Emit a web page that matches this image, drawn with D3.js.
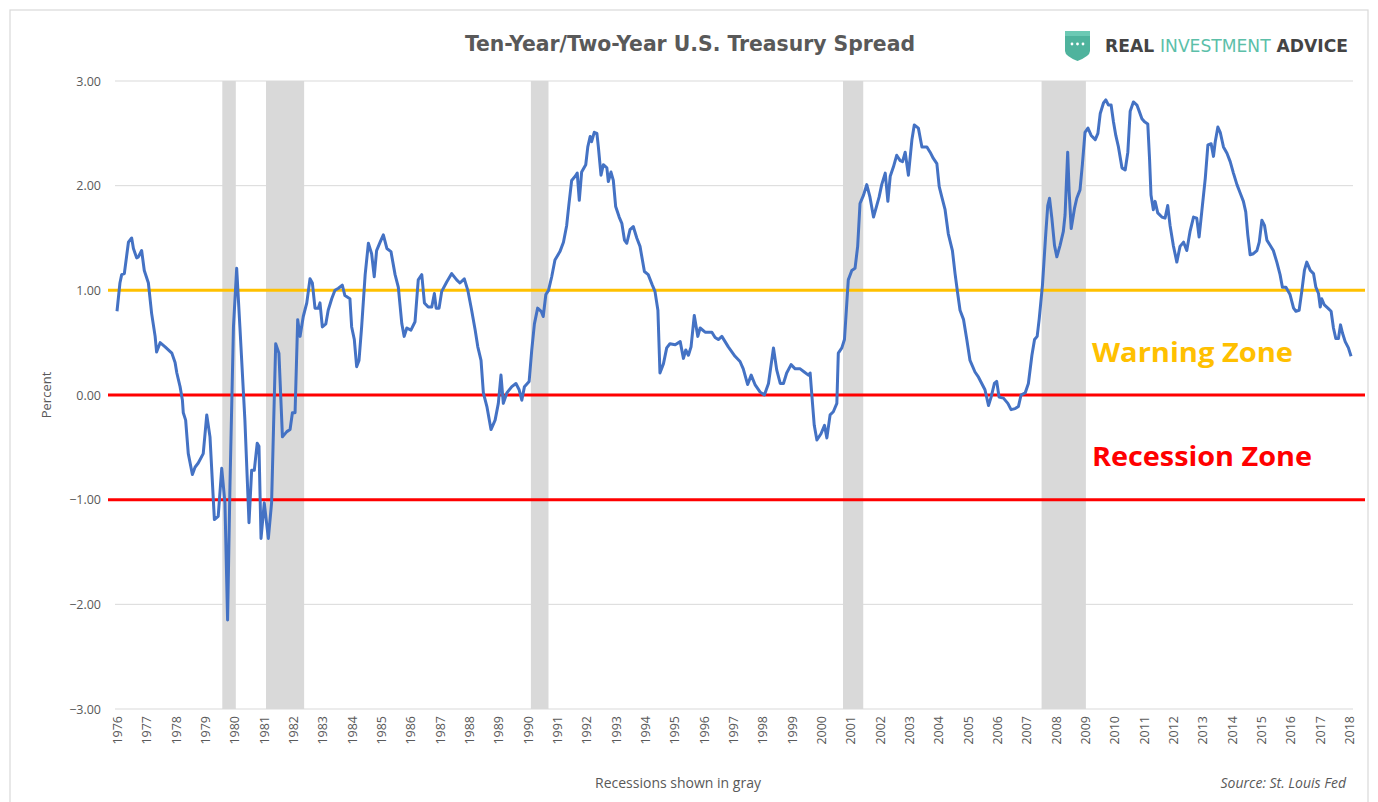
<!DOCTYPE html>
<html><head><meta charset="utf-8">
<script src="https://cdn.jsdelivr.net/npm/d3@7"></script>
<style>body{margin:0;background:#fff;} svg{display:block;}</style>
</head><body>
<svg id="chart" width="1378" height="802"></svg>
<script>
// ---- data ----
const years = d3.range(1976, 2019);
const yTicks = [3, 2, 1, 0, -1, -2, -3];
const recessions = [[1979.59, 1980.05], [1981.08, 1982.38], [1990.11, 1990.71], [2000.75, 2001.44], [2007.52, 2009.03]];
const dates = [1976.00,1976.10,1976.16,1976.25,1976.39,1976.50,1976.56,1976.67,1976.73,1976.84,1976.93,1977.07,1977.18,1977.30,1977.35,1977.47,1977.64,1977.87,1977.98,1978.04,1978.15,1978.23,1978.26,1978.34,1978.43,1978.57,1978.66,1978.77,1978.94,1979.06,1979.17,1979.32,1979.45,1979.57,1979.68,1979.77,1979.85,1979.97,1980.08,1980.19,1980.36,1980.50,1980.59,1980.68,1980.78,1980.84,1980.91,1981.02,1981.16,1981.27,1981.41,1981.52,1981.64,1981.79,1981.90,1981.98,1982.07,1982.16,1982.24,1982.35,1982.47,1982.58,1982.66,1982.75,1982.86,1982.92,1983.00,1983.12,1983.20,1983.32,1983.43,1983.55,1983.68,1983.77,1983.94,1984.00,1984.09,1984.17,1984.25,1984.34,1984.46,1984.57,1984.68,1984.77,1984.85,1984.97,1985.08,1985.20,1985.34,1985.48,1985.59,1985.71,1985.79,1985.88,1986.02,1986.16,1986.27,1986.39,1986.48,1986.61,1986.73,1986.82,1986.88,1986.98,1987.07,1987.24,1987.41,1987.58,1987.69,1987.84,1987.96,1988.09,1988.21,1988.30,1988.41,1988.49,1988.61,1988.75,1988.89,1989.00,1989.09,1989.17,1989.29,1989.46,1989.60,1989.71,1989.80,1989.89,1990.05,1990.14,1990.23,1990.34,1990.46,1990.53,1990.62,1990.71,1990.82,1990.93,1991.10,1991.22,1991.33,1991.41,1991.50,1991.62,1991.69,1991.76,1991.84,1991.98,1992.05,1992.13,1992.18,1992.27,1992.36,1992.41,1992.50,1992.58,1992.70,1992.75,1992.84,1992.92,1993.00,1993.12,1993.21,1993.30,1993.38,1993.49,1993.60,1993.72,1993.83,1993.98,1994.11,1994.25,1994.34,1994.44,1994.51,1994.63,1994.74,1994.85,1995.03,1995.20,1995.31,1995.39,1995.48,1995.57,1995.68,1995.80,1995.88,1996.05,1996.28,1996.39,1996.50,1996.62,1996.84,1997.07,1997.24,1997.35,1997.50,1997.62,1997.75,1997.92,1998.07,1998.21,1998.38,1998.49,1998.61,1998.72,1998.83,1998.98,1999.12,1999.29,1999.43,1999.57,1999.63,1999.71,1999.77,1999.86,2000.00,2000.12,2000.20,2000.31,2000.42,2000.54,2000.59,2000.71,2000.80,2000.88,2000.93,2001.05,2001.16,2001.25,2001.33,2001.45,2001.56,2001.67,2001.79,2001.90,2001.98,2002.07,2002.19,2002.28,2002.36,2002.47,2002.58,2002.70,2002.78,2002.87,2002.98,2003.10,2003.18,2003.32,2003.44,2003.61,2003.72,2003.83,2003.95,2004.03,2004.12,2004.23,2004.34,2004.48,2004.57,2004.66,2004.74,2004.86,2004.97,2005.08,2005.25,2005.37,2005.48,2005.59,2005.71,2005.80,2005.91,2005.99,2006.07,2006.22,2006.37,2006.48,2006.62,2006.73,2006.82,2006.96,2007.07,2007.19,2007.28,2007.37,2007.44,2007.55,2007.66,2007.73,2007.79,2007.87,2007.96,2008.04,2008.15,2008.26,2008.32,2008.41,2008.46,2008.53,2008.64,2008.72,2008.83,2008.91,2009.00,2009.10,2009.21,2009.35,2009.44,2009.52,2009.63,2009.71,2009.80,2009.89,2009.97,2010.05,2010.14,2010.26,2010.37,2010.46,2010.54,2010.65,2010.77,2010.85,2010.94,2011.03,2011.14,2011.20,2011.25,2011.33,2011.39,2011.48,2011.62,2011.73,2011.82,2011.90,2012.01,2012.13,2012.24,2012.36,2012.47,2012.58,2012.70,2012.81,2012.89,2012.98,2013.10,2013.19,2013.30,2013.38,2013.44,2013.53,2013.61,2013.72,2013.84,2013.95,2014.06,2014.18,2014.29,2014.40,2014.48,2014.55,2014.63,2014.74,2014.86,2014.94,2015.03,2015.12,2015.20,2015.31,2015.42,2015.54,2015.65,2015.73,2015.85,2015.99,2016.11,2016.19,2016.30,2016.39,2016.48,2016.56,2016.68,2016.79,2016.87,2016.96,2017.02,2017.07,2017.16,2017.28,2017.39,2017.47,2017.55,2017.64,2017.71,2017.78,2017.87,2017.98,2018.07];
const spread = [0.80,1.07,1.15,1.16,1.46,1.50,1.40,1.31,1.32,1.38,1.19,1.07,0.78,0.56,0.41,0.50,0.46,0.40,0.31,0.21,0.08,-0.05,-0.17,-0.24,-0.56,-0.76,-0.69,-0.65,-0.56,-0.19,-0.40,-1.19,-1.16,-0.70,-1.03,-2.15,-0.88,0.65,1.21,0.65,-0.24,-1.22,-0.72,-0.72,-0.46,-0.49,-1.37,-1.03,-1.37,-1.03,0.49,0.40,-0.40,-0.35,-0.33,-0.17,-0.17,0.72,0.56,0.75,0.88,1.11,1.07,0.83,0.83,0.88,0.65,0.68,0.81,0.92,1.00,1.02,1.05,0.95,0.92,0.65,0.53,0.27,0.33,0.65,1.15,1.45,1.35,1.13,1.38,1.46,1.53,1.40,1.37,1.15,1.03,0.68,0.56,0.64,0.62,0.70,1.10,1.15,0.88,0.84,0.84,0.97,0.83,0.83,0.99,1.08,1.16,1.10,1.07,1.11,1.00,0.81,0.62,0.46,0.33,0.02,-0.11,-0.33,-0.24,-0.08,0.19,-0.08,0.02,0.08,0.11,0.05,-0.05,0.08,0.13,0.43,0.68,0.83,0.80,0.75,0.96,1.00,1.13,1.29,1.37,1.46,1.62,1.83,2.05,2.09,2.12,1.86,2.13,2.20,2.37,2.47,2.42,2.51,2.50,2.37,2.10,2.20,2.17,2.04,2.13,2.05,1.80,1.70,1.64,1.48,1.45,1.58,1.61,1.50,1.42,1.18,1.15,1.05,0.99,0.81,0.21,0.30,0.45,0.49,0.48,0.51,0.35,0.43,0.38,0.46,0.76,0.56,0.64,0.60,0.60,0.55,0.53,0.56,0.46,0.37,0.32,0.25,0.10,0.19,0.10,0.03,0.00,0.11,0.45,0.24,0.11,0.11,0.21,0.29,0.25,0.25,0.22,0.19,0.21,-0.08,-0.29,-0.43,-0.37,-0.29,-0.41,-0.19,-0.16,-0.08,0.40,0.45,0.53,0.88,1.10,1.19,1.21,1.42,1.83,1.91,2.01,1.89,1.70,1.81,1.89,2.01,2.12,1.85,2.09,2.18,2.29,2.24,2.23,2.32,2.10,2.44,2.58,2.55,2.37,2.37,2.32,2.26,2.21,1.99,1.89,1.77,1.54,1.38,1.16,0.97,0.81,0.72,0.53,0.33,0.22,0.17,0.11,0.05,-0.10,-0.02,0.11,0.13,-0.02,-0.03,-0.08,-0.14,-0.13,-0.11,0.00,0.02,0.11,0.38,0.53,0.56,0.73,1.05,1.53,1.81,1.88,1.69,1.43,1.32,1.43,1.56,1.72,2.32,1.94,1.59,1.78,1.88,1.96,2.20,2.51,2.55,2.48,2.44,2.50,2.69,2.79,2.82,2.77,2.77,2.61,2.48,2.37,2.17,2.15,2.32,2.71,2.80,2.77,2.71,2.64,2.61,2.59,2.26,1.91,1.77,1.85,1.74,1.70,1.69,1.81,1.62,1.43,1.27,1.42,1.46,1.38,1.56,1.70,1.69,1.51,1.75,2.07,2.39,2.40,2.28,2.42,2.56,2.51,2.37,2.31,2.23,2.12,2.01,1.93,1.85,1.75,1.53,1.34,1.35,1.38,1.46,1.67,1.62,1.48,1.43,1.38,1.27,1.15,1.03,1.03,0.96,0.83,0.80,0.81,0.99,1.19,1.27,1.19,1.16,1.03,0.97,0.84,0.92,0.86,0.83,0.80,0.64,0.54,0.54,0.67,0.59,0.51,0.45,0.37];
const warningLevel = 1.0;
const recessionLevels = [0.0, -1.0];

// ---- layout ----
const svg = d3.select("#chart");
const W = 1378, H = 802;
const x = d3.scaleLinear().domain([1976, 2018]).range([117, 1349]);
const y = d3.scaleLinear().domain([-3, 3]).range([709, 81]);
const gridL = 115, gridR = 1353;
const font = "'Open Sans', 'Liberation Sans', sans-serif";

svg.append("rect").attr("x", 10).attr("y", 10).attr("width", 1358).attr("height", 800)
  .attr("fill", "#fff").attr("stroke", "#d9d9d9").attr("stroke-width", 1.2);

// recession bands
svg.append("g").selectAll("rect").data(recessions).join("rect")
  .attr("x", d => x(d[0])).attr("width", d => x(d[1]) - x(d[0]))
  .attr("y", y(3)).attr("height", y(-3) - y(3))
  .attr("fill", "#d9d9d9");

// gridlines
svg.append("g").selectAll("line").data(yTicks).join("line")
  .attr("x1", gridL).attr("x2", gridR)
  .attr("y1", d => y(d)).attr("y2", d => y(d))
  .attr("stroke", "#d9d9d9").attr("stroke-width", 1);

// y axis
const yAxis = d3.axisLeft(y).tickValues(yTicks).tickFormat(d3.format(".2f")).tickSize(0).tickPadding(0);
const gy = svg.append("g").attr("transform", "translate(101,0)").call(yAxis);
gy.select(".domain").remove();
gy.selectAll("text").attr("font-family", font).attr("font-size", 12.5).attr("fill", "#595959");

// x axis
const xAxis = d3.axisBottom(x).tickValues(years).tickFormat(d3.format("d")).tickSize(0);
const gx = svg.append("g").attr("transform", "translate(0,716)").call(xAxis);
gx.select(".domain").remove();
gx.selectAll("text")
  .attr("font-family", font).attr("font-size", 12.5).attr("fill", "#595959")
  .attr("transform", "rotate(-90)").attr("text-anchor", "end")
  .attr("x", 0).attr("y", 0).attr("dy", "0.35em").attr("dx", 0);

// threshold lines
svg.append("line").attr("x1", 108).attr("x2", 1365)
  .attr("y1", y(warningLevel)).attr("y2", y(warningLevel))
  .attr("stroke", "#FFC000").attr("stroke-width", 3);
svg.append("g").selectAll("line").data(recessionLevels).join("line")
  .attr("x1", 108).attr("x2", 1365)
  .attr("y1", d => y(d)).attr("y2", d => y(d))
  .attr("stroke", "#FF0000").attr("stroke-width", 3);

// spread line
const pts = dates.map((d, i) => [d, spread[i]]);
svg.append("path").datum(pts)
  .attr("fill", "none").attr("stroke", "#4472C4").attr("stroke-width", 3)
  .attr("stroke-linejoin", "round")
  .attr("d", d3.line().x(d => x(d[0])).y(d => y(d[1])));

// zone labels
svg.append("text").attr("x", 1092).attr("y", 362).text("Warning Zone")
  .attr("font-family", font).attr("font-weight", "bold").attr("font-size", 26)
  .attr("fill", "#FFC000").attr("textLength", 201).attr("lengthAdjust", "spacingAndGlyphs");
svg.append("text").attr("x", 1092).attr("y", 466).text("Recession Zone")
  .attr("font-family", font).attr("font-weight", "bold").attr("font-size", 26)
  .attr("fill", "#FF0000").attr("textLength", 220).attr("lengthAdjust", "spacingAndGlyphs");

// title
svg.append("text").attr("x", 690).attr("y", 51).attr("text-anchor", "middle")
  .text("Ten-Year/Two-Year U.S. Treasury Spread")
  .attr("font-family", "'Liberation Sans Narrow', 'DejaVu Sans Condensed', sans-serif")
  .attr("font-weight", "bold").attr("font-size", 21).attr("fill", "#595959")
  .attr("textLength", 450).attr("lengthAdjust", "spacingAndGlyphs");

// y label
svg.append("text").attr("transform", "translate(51,395) rotate(-90)").attr("text-anchor", "middle")
  .text("Percent").attr("font-family", font).attr("font-size", 13).attr("fill", "#595959");

// bottom notes
svg.append("text").attr("x", 678).attr("y", 788).attr("text-anchor", "middle")
  .text("Recessions shown in gray").attr("font-family", font).attr("font-size", 14).attr("fill", "#595959");
svg.append("text").attr("x", 1346).attr("y", 788).attr("text-anchor", "end")
  .text("Source: St. Louis Fed").attr("font-family", font).attr("font-style", "italic")
  .attr("font-size", 14).attr("fill", "#595959");

// logo
const logo = svg.append("g");
logo.append("path")
  .attr("d", "M1065,31 L1090,31 L1090,51 Q1090,56 1077.5,61 Q1065,56 1065,51 Z")
  .attr("fill", "#4fb39d");
logo.append("path")
  .attr("d", "M1065,31 L1090,31 L1090,36 L1065,36 Z").attr("fill", "#6cc9b4");
[1072, 1077.5, 1083].forEach(cx => logo.append("circle").attr("cx", cx).attr("cy", 44).attr("r", 1.4).attr("fill", "#fff"));
const lt = logo.append("text").attr("x", 1105).attr("y", 52)
  .attr("font-family", "'Liberation Sans Narrow', 'DejaVu Sans Condensed', sans-serif")
  .attr("font-size", 17).attr("font-weight", "bold")
  .attr("textLength", 243).attr("lengthAdjust", "spacingAndGlyphs");
lt.append("tspan").text("REAL ").attr("fill", "#444");
lt.append("tspan").text("INVESTMENT").attr("fill", "#5cbfa9").attr("font-weight", "normal");
lt.append("tspan").text(" ADVICE").attr("fill", "#444");
</script>
</body></html>
